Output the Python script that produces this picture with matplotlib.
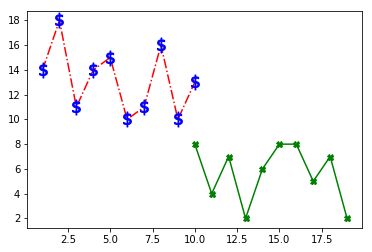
import matplotlib
matplotlib.use("Agg")
import matplotlib.pyplot as plt

x_red = [1, 2, 3, 4, 5, 6, 7, 8, 9, 10]
y_red = [14, 18, 11, 14, 15, 10, 11, 16, 10, 13]
x_green = [10, 11, 12, 13, 14, 15, 16, 17, 18, 19]
y_green = [8, 4, 7, 2, 6, 8, 8, 5, 7, 2]

fig = plt.figure(figsize=(372/72, 252/72), dpi=72)
ax = fig.add_axes([27.3/372, 1 - 228.3/252, (362.3 - 27.3)/372, (228.3 - 10.5)/252])
ax.plot(x_red, y_red, color='r', linestyle='-.', marker=r'$\$$',
        markersize=15, markerfacecolor='b', markeredgecolor='b')
ax.plot(x_green, y_green, color='g', linestyle='-', marker='X', markersize=6)
fig.savefig("out.png", dpi=72)
